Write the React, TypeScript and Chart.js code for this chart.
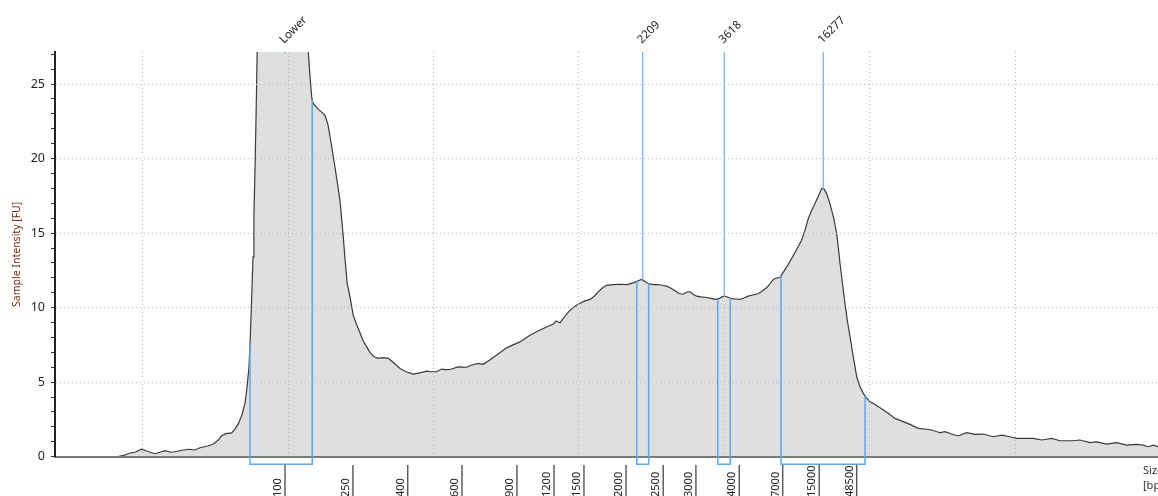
import React, { useEffect, useRef } from "react";
import { Chart, registerables } from "chart.js";

Chart.register(...registerables);

// Migration time (s) of each trace sample
const migrationTimes = [
  18.30, 18.71, 19.13, 19.47, 19.93, 20.36, 20.85, 21.19, 21.53, 21.95,
  22.34, 22.77, 23.25, 23.60, 23.94, 24.42, 24.86, 25.18, 25.43, 25.73,
  26.12, 26.35, 26.57, 26.83, 27.04, 27.17, 27.31, 27.41, 27.50, 27.59,
  27.65, 27.74, 27.81, 27.88, 27.96, 28.76, 29.79, 30.82, 31.30, 31.39,
  31.47, 31.55, 31.64, 31.73, 32.08, 32.33, 32.54, 32.74, 32.88, 33.05,
  33.23, 33.40, 33.57, 33.80, 33.93, 34.07, 34.26, 34.48, 34.70, 34.95,
  35.15, 35.41, 35.63, 35.91, 36.20, 36.53, 36.89, 37.21, 37.70, 38.11,
  38.61, 39.07, 39.53, 39.83, 40.22, 40.56, 40.86, 41.13, 41.71, 42.28,
  42.65, 43.08, 43.43, 43.89, 44.35, 45.03, 45.47, 45.95, 46.64, 47.12,
  47.55, 48.24, 48.43, 48.70, 48.94, 49.39, 49.73, 50.08, 50.42, 50.76,
  51.04, 51.33, 51.59, 51.91, 52.35, 52.83, 53.31, 53.74, 54.07, 54.32,
  54.55, 54.77, 55.10, 55.46, 55.72, 56.04, 56.33, 56.61, 56.88, 57.18,
  57.43, 57.64, 57.85, 58.10, 58.40, 58.79, 59.09, 59.36, 59.64, 59.84,
  60.05, 60.25, 60.51, 60.80, 61.08, 61.35, 61.65, 61.97, 62.34, 62.59,
  62.92, 63.14, 63.37, 63.62, 63.83, 64.04, 64.29, 64.52, 64.75, 65.03,
  65.32, 65.55, 65.78, 66.00, 66.24, 66.48, 66.70, 66.86, 67.04, 67.20,
  67.39, 67.55, 67.73, 67.85, 67.96, 68.13, 68.30, 68.47, 68.65, 68.89,
  69.11, 69.33, 69.56, 69.78, 70.02, 70.37, 70.71, 71.28, 71.74, 72.31,
  72.77, 73.34, 73.92, 74.26, 74.84, 75.18, 75.64, 76.09, 76.67, 77.24,
  77.81, 78.50, 79.08, 79.65, 80.11, 80.80, 81.25, 81.83, 82.52, 83.09,
  84.00, 84.46, 85.15, 85.61, 86.30, 86.99, 87.68, 88.36, 88.82, 89.16,
  89.51, 89.83,
];

// Sample intensity [FU] at each migration time
const intensities = [
  0, 0.1, 0.25, 0.3, 0.5, 0.35, 0.2, 0.3, 0.4, 0.3,
  0.35, 0.45, 0.5, 0.45, 0.6, 0.7, 0.85, 1.1, 1.4, 1.55,
  1.6, 1.85, 2.2, 2.8, 3.6, 4.6, 6.0, 8.2, 10.8, 13.4,
  16.1, 19.9, 23.5, 27.5, 32, 42, 45, 40, 31, 27.2,
  26, 25, 24, 23.7, 23.3, 23.1, 22.9, 22.3, 21.5, 20.5,
  19.4, 18.3, 17.2, 14.7, 13.1, 11.6, 10.7, 9.5, 8.9, 8.3,
  7.8, 7.37, 7.0, 6.7, 6.6, 6.65, 6.6, 6.35, 5.92, 5.7,
  5.54, 5.62, 5.74, 5.7, 5.7, 5.88, 5.84, 5.85, 6.03, 6.0,
  6.15, 6.26, 6.2, 6.5, 6.82, 7.3, 7.5, 7.7, 8.15, 8.4,
  8.6, 8.9, 9.1, 8.98, 9.3, 9.83, 10.1, 10.3, 10.45, 10.55,
  10.75, 11.06, 11.3, 11.5, 11.55, 11.57, 11.55, 11.66, 11.8, 11.89,
  11.75, 11.62, 11.55, 11.55, 11.5, 11.44, 11.3, 11.13, 10.95, 10.9,
  11.05, 11.06, 10.9, 10.77, 10.72, 10.68, 10.62, 10.55, 10.6, 10.72,
  10.77, 10.7, 10.6, 10.58, 10.55, 10.65, 10.77, 10.85, 10.95, 11.1,
  11.35, 11.6, 11.89, 12.0, 12.02, 12.35, 12.73, 13.1, 13.5, 14.0,
  14.52, 15.2, 15.98, 16.5, 16.98, 17.5, 17.99, 17.95, 17.65, 17.2,
  16.53, 15.9, 14.97, 14.0, 12.96, 11.6, 10.28, 9.1, 8.04, 6.6,
  5.36, 4.7, 4.25, 3.95, 3.69, 3.5, 3.28, 2.91, 2.57, 2.35,
  2.17, 1.9, 1.84, 1.79, 1.61, 1.68, 1.52, 1.39, 1.61, 1.5,
  1.52, 1.34, 1.45, 1.34, 1.23, 1.23, 1.23, 1.12, 1.23, 1.07,
  1.07, 1.12, 0.94, 1.0, 0.85, 0.94, 0.78, 0.83, 0.78, 0.67,
  0.78, 0.67,
];

// Axis ranges and grid
const timeMin = 13.97;
const timeMax = 89.83;
const timeGridLines = [20, 30, 40, 50, 60, 70, 80];
const intensityMax = 27.15;
const intensityLabelled = [0, 5, 10, 15, 20, 25];
const intensityGridLines = [5, 10, 15, 20, 25];
const intensityMinorCount = 28;

// Ladder (size axis) ticks
const ladderSizes = ["100", "250", "400", "600", "900", "1200", "1500", "2000", "2500", "3000", "4000", "7000", "15000", "48500"];
const ladderTimes = [29.79, 34.46, 38.23, 41.96, 45.74, 48.29, 50.35, 53.24, 55.80, 58.05, 61.03, 64.02, 66.53, 69.11];

// Called peaks
const peakLabels = ["Lower", "2209", "3618", "16277"];
const peakTimes = [29.79, 54.39, 60.0, 66.81];

// Integration regions
const regionStarts = [27.38, 53.98, 59.55, 63.9];
const regionEnds = [31.66, 54.8, 60.41, 69.68];

const yTitle = "Sample Intensity [FU]";
const xTitleLines = ["Size", "[bp]"];

const FONT = '"Noto Sans", "DejaVu Sans", sans-serif';

function interpIntensity(t: number): number {
  if (t <= migrationTimes[0]) return intensities[0];
  for (let i = 1; i < migrationTimes.length; i++) {
    if (t <= migrationTimes[i]) {
      const t0 = migrationTimes[i - 1];
      const t1 = migrationTimes[i];
      const f = (t - t0) / (t1 - t0);
      return intensities[i - 1] + f * (intensities[i] - intensities[i - 1]);
    }
  }
  return intensities[intensities.length - 1];
}

const overlayPlugin = {
  id: "overlay",
  afterDraw(chart: any) {
    const { ctx, chartArea, scales } = chart;
    const xs = scales.x;
    const ys = scales.y;
    const H = chart.height;
    ctx.save();

    // region boxes
    ctx.strokeStyle = "#5aa9f3";
    ctx.lineWidth = 1.5;
    const boxBottom = chartArea.bottom + 7.6;
    regionStarts.forEach((s, i) => {
      const e = regionEnds[i];
      const x1 = xs.getPixelForValue(s);
      const x2 = xs.getPixelForValue(e);
      const y1 = Math.max(chartArea.top, ys.getPixelForValue(interpIntensity(s)));
      const y2 = Math.max(chartArea.top, ys.getPixelForValue(interpIntensity(e)));
      ctx.beginPath();
      ctx.moveTo(x1, y1);
      ctx.lineTo(x1, boxBottom);
      ctx.lineTo(x2, boxBottom);
      ctx.lineTo(x2, y2);
      ctx.stroke();
    });

    // peak lines
    ctx.strokeStyle = "#74b6f3";
    ctx.lineWidth = 1.3;
    peakTimes.forEach((t) => {
      const x = xs.getPixelForValue(t);
      const y = Math.max(chartArea.top + 2, ys.getPixelForValue(interpIntensity(t)));
      ctx.beginPath();
      ctx.moveTo(x, chartArea.top);
      ctx.lineTo(x, y);
      ctx.stroke();
    });

    // peak labels
    ctx.fillStyle = "#222";
    ctx.font = `11.5px ${FONT}`;
    ctx.textAlign = "left";
    ctx.textBaseline = "alphabetic";
    peakTimes.forEach((t, i) => {
      const x = xs.getPixelForValue(t);
      ctx.save();
      ctx.translate(x - 1, chartArea.top - 8);
      ctx.rotate(-Math.PI / 4);
      ctx.fillText(peakLabels[i], 0, 0);
      ctx.restore();
    });

    // ladder ticks and labels
    ctx.strokeStyle = "#555";
    ctx.lineWidth = 1.4;
    ctx.fillStyle = "#222";
    ctx.font = `11px ${FONT}`;
    ladderTimes.forEach((t, i) => {
      const x = xs.getPixelForValue(t);
      ctx.beginPath();
      ctx.moveTo(x, chartArea.bottom + 8.3);
      ctx.lineTo(x, H);
      ctx.stroke();
      ctx.save();
      ctx.translate(x - 4, H + 1);
      ctx.rotate(-Math.PI / 2);
      ctx.textAlign = "left";
      ctx.textBaseline = "alphabetic";
      ctx.fillText(ladderSizes[i], 0, 0);
      ctx.restore();
    });

    // x title (cut by the edge)
    ctx.fillStyle = "#333";
    ctx.font = `11px ${FONT}`;
    ctx.textAlign = "left";
    ctx.fillText(xTitleLines[0], chartArea.right - 15, chartArea.bottom + 17.5);
    ctx.fillText(xTitleLines[1], chartArea.right - 15, chartArea.bottom + 32.5);

    // y title
    ctx.save();
    ctx.fillStyle = "#7a2e12";
    ctx.font = `10.5px ${FONT}`;
    ctx.translate(17.5, (chartArea.top + chartArea.bottom) / 2);
    ctx.rotate(-Math.PI / 2);
    ctx.textAlign = "center";
    ctx.textBaseline = "middle";
    ctx.fillText(yTitle, 0, 0);
    ctx.restore();

    ctx.restore();
  },
};

export default function App() {
  const canvasRef = useRef<HTMLCanvasElement | null>(null);

  useEffect(() => {
    const canvas = canvasRef.current;
    if (!canvas) return;
    const points = migrationTimes.map((t, i) => ({ x: t, y: intensities[i] }));
    const chart = new Chart(canvas, {
      type: "line",
      data: {
        datasets: [
          {
            data: points,
            borderColor: "#3a3a3a",
            borderWidth: 1.2,
            backgroundColor: "#dfdfdf",
            fill: "origin",
            pointRadius: 0,
            tension: 0,
            clip: 0,
          } as any,
        ],
      },
      options: {
        animation: false,
        responsive: false,
        maintainAspectRatio: false,
        devicePixelRatio: 1,
        layout: { padding: { top: 52, left: 0, right: 0, bottom: 0 } },
        plugins: { legend: { display: false }, tooltip: { enabled: false } },
        scales: {
          x: {
            type: "linear",
            min: timeMin,
            max: timeMax,
            afterFit: (s: any) => {
              s.height = 39.3;
            },
            afterBuildTicks: (s: any) => {
              s.ticks = timeGridLines.map((v) => ({ value: v }));
            },
            ticks: { display: false },
            grid: { color: "#b4b4b4", lineWidth: 1, drawTicks: false, z: 1 } as any,
            border: { color: "#7a7a7a", width: 2, dash: [1, 3], z: 2 } as any,
          },
          y: {
            type: "linear",
            min: 0,
            max: intensityMax,
            afterFit: (s: any) => {
              s.width = 55;
            },
            afterBuildTicks: (s: any) => {
              s.ticks = Array.from({ length: intensityMinorCount }, (_, i) => ({ value: i }));
            },
            ticks: {
              autoSkip: false,
              padding: 6,
              color: "#222",
              font: { family: FONT, size: 12.5 },
              callback: (v: any) => (intensityLabelled.includes(Number(v)) ? String(v) : ""),
            },
            grid: {
              color: (c: any) =>
                c.tick && intensityGridLines.includes(c.tick.value) ? "#b4b4b4" : "rgba(0,0,0,0)",
              tickColor: "#333",
              tickLength: 4,
              lineWidth: 1,
              z: 1,
            } as any,
            border: { color: "#222", width: 2, dash: [1, 3], z: 2 } as any,
          },
        },
      },
      plugins: [overlayPlugin],
    });
    return () => chart.destroy();
  }, []);

  return (
    <div style={{ position: "fixed", left: 0, top: 0, width: 1158, height: 496, overflow: "hidden", background: "#fff" }}>
      <canvas ref={canvasRef} width={1158} height={496} style={{ display: "block" }} />
    </div>
  );
}
